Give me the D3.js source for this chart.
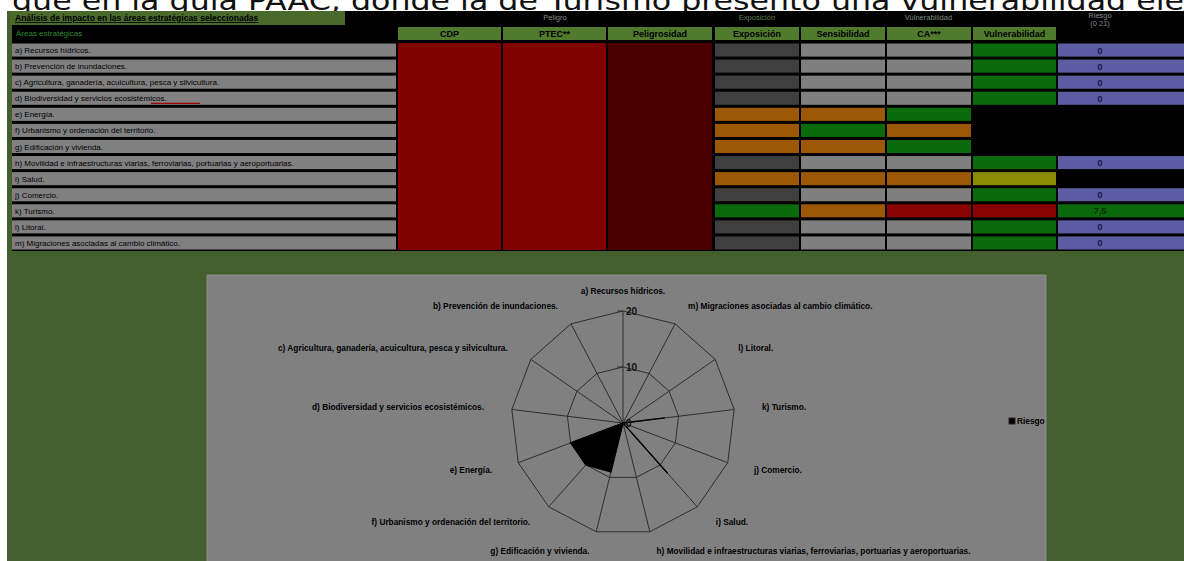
<!DOCTYPE html>
<html><head><meta charset="utf-8">
<script src="https://cdn.jsdelivr.net/npm/d3@7"></script>
<style>html,body{margin:0;padding:0;background:#fff;}svg{display:block;}</style>
</head><body>
<svg id="c" width="1184" height="561"></svg>
<script>
// ---------- DATA ----------
const introText = "que en la guía PAAC, donde la de Turismo presentó una vulnerabilidad ele";
const tableTitle = "Análisis de impacto en las áreas estratégicas seleccionadas";
const groupHeaders = ["Peligro", "Exposición", "Vulnerabilidad", "Riesgo"];
const riskRange = "(0 21)";
const rowHeader = "Áreas estratégicas";
const columnHeaders = ["CDP", "PTEC**", "Peligrosidad", "Exposición", "Sensibilidad", "CA***", "Vulnerabilidad"];
const categories = [
  "a) Recursos hídricos.",
  "b) Prevención de inundaciones.",
  "c) Agricultura, ganadería, acuicultura, pesca y silvicultura.",
  "d) Biodiversidad y servicios ecosistémicos.",
  "e) Energía.",
  "f) Urbanismo y ordenación del territorio.",
  "g) Edificación y vivienda.",
  "h) Movilidad e infraestructuras viarias, ferroviarias, portuarias y aeroportuarias.",
  "i) Salud.",
  "j) Comercio.",
  "k) Turismo.",
  "l) Litoral.",
  "m) Migraciones asociadas al cambio climático."
];
// cell level codes: nd = sin dato (gris oscuro), gr = gris, or = naranja, ve = verde, ro = rojo, am = amarillo, ne = vacío
const exposicion     = ["nd","nd","nd","nd","or","or","or","nd","or","nd","ve","nd","nd"];
const sensibilidad   = ["gr","gr","gr","gr","or","ve","or","gr","or","gr","or","gr","gr"];
const capacidad      = ["gr","gr","gr","gr","ve","or","ve","gr","or","gr","ro","gr","gr"];
const vulnerabilidad = ["ve","ve","ve","ve","ne","ne","ne","ve","am","ve","ro","ve","ve"];
const riesgoTexto    = ["0","0","0","0",null,null,null,"0",null,"0","7,5","0","0"];
const riesgoNivel    = ["bajo","bajo","bajo","bajo","ne","ne","ne","bajo","ne","bajo","ve","bajo","bajo"];
// radar (Riesgo) values per category
const radarValues = [0, 0, 0, 0, 10, 10, 9, 0, 12, 0, 7.5, 0, 0];
const radarTicks = [0, 10, 20];
const legendLabel = "Riesgo";

// ---------- STYLE ----------
const levelColor = {nd:"#3f3f3f", gr:"#7f7f7f", or:"#9c5807", ve:"#0b6a0b", ro:"#8a0303", am:"#8c8a00", ne:"#000", bajo:"#5d5da3"};
const svg = d3.select("#c");
const GREEN_BG = "#445f2e";

// white area + top text (only its lower part is visible above the sheet)
svg.append("rect").attr("x",0).attr("y",0).attr("width",1184).attr("height",561).attr("fill","#fff");
svg.append("defs").append("clipPath").attr("id","topclip").append("rect").attr("x",0).attr("y",0).attr("width",1184).attr("height",11);
svg.append("text").attr("clip-path","url(#topclip)").attr("x",12).attr("y",10).attr("font-family","'DejaVu Sans', sans-serif")
  .attr("font-size",27).attr("fill","#111").attr("textLength",1172).attr("lengthAdjust","spacingAndGlyphs").text(introText);

// spreadsheet background
svg.append("rect").attr("x",7).attr("y",11).attr("width",1177).attr("height",550).attr("fill",GREEN_BG);
svg.append("rect").attr("x",12).attr("y",11).attr("width",1172).attr("height",240).attr("fill","#000");
svg.append("rect").attr("x",10).attr("y",11).attr("width",335).attr("height",14).attr("fill","#4a6a2c");
svg.append("text").attr("x",15).attr("y",21).attr("font-family","'Liberation Sans', Arial, sans-serif")
  .attr("font-size",8.5).attr("font-weight","bold").attr("text-decoration","underline").attr("fill","#000").text(tableTitle);

// column layout
const colEdges = [[398,501],[503,606],[608,712],[715,799],[801,885],[887,971],[973,1056]];
const riskCol = [1058,1184];
const labelCol = [12,396];

const groupX = [(398+712)/2, (715+799)/2, (801+1056)/2, (riskCol[0]+1142)/2];
const groupColor = ["#8a8a8a","#5f7f4f","#7f8a7a","#8a8a8a"];
groupHeaders.forEach((g,i)=>{
  svg.append("text").attr("x",groupX[i]).attr("y", i===3?18:20).attr("text-anchor","middle")
    .attr("font-family","'Liberation Sans', Arial, sans-serif").attr("font-size",7.5).attr("fill",groupColor[i]).text(g);
});
svg.append("text").attr("x",groupX[3]).attr("y",26).attr("text-anchor","middle")
  .attr("font-family","'Liberation Sans', Arial, sans-serif").attr("font-size",7.5).attr("fill","#8a8a8a").text(riskRange);

svg.append("text").attr("x",16).attr("y",36).attr("font-family","'Liberation Sans', Arial, sans-serif")
  .attr("font-size",8).attr("fill","#2f8a2f").text(rowHeader);

columnHeaders.forEach((h,i)=>{
  const [x0,x1]=colEdges[i];
  svg.append("rect").attr("x",x0).attr("y",27).attr("width",x1-x0).attr("height",13).attr("fill","#527a2e");
  svg.append("text").attr("x",(x0+x1)/2).attr("y",37).attr("text-anchor","middle")
    .attr("font-family","'Liberation Sans', Arial, sans-serif").attr("font-size",9).attr("font-weight","bold")
    .attr("fill","#000").text(h);
});

// rows
const y = d3.scaleBand().domain(categories).range([42,251]);
const font = "'Liberation Sans', Arial, sans-serif";
const rowG = svg.append("g");
categories.forEach((c,i)=>{
  const y0 = y(c)+1.5, h = y.bandwidth()-3;
  rowG.append("rect").attr("x",labelCol[0]).attr("y",y0).attr("width",labelCol[1]-labelCol[0]).attr("height",h).attr("fill","#808080");
  rowG.append("text").attr("x",15).attr("y",y0+h/2+3).attr("font-family",font).attr("font-size",8).attr("fill","#000").text(c);
  if (i===3) {
    rowG.append("line").attr("x1",151).attr("x2",200).attr("y1",y0+h-1.5).attr("y2",y0+h-1.5).attr("stroke","#a00000").attr("stroke-width",1.2);
  }
  const cols = [exposicion, sensibilidad, capacidad, vulnerabilidad];
  cols.forEach((arr,j)=>{
    const [x0,x1]=colEdges[3+j];
    rowG.append("rect").attr("x",x0).attr("y",y0).attr("width",x1-x0).attr("height",h).attr("fill",levelColor[arr[i]]);
  });
  rowG.append("rect").attr("x",riskCol[0]).attr("y",y0).attr("width",riskCol[1]-riskCol[0]).attr("height",h).attr("fill",levelColor[riesgoNivel[i]]);
  if (riesgoTexto[i]!==null) {
    rowG.append("text").attr("x",1100).attr("y",y0+h/2+3.5).attr("text-anchor","middle").attr("font-family",font)
      .attr("font-size",9.5).attr("font-weight","bold").attr("fill", riesgoNivel[i]==="ve" ? "#0a2a0a" : "#141450").text(riesgoTexto[i]);
  }
});
const yTop = y(categories[0])+1, yBot = y(categories[categories.length-1])+y.bandwidth()-1;
[["#800000",0],["#800000",1],["#4b0000",2]].forEach(([col,k])=>{
  const [x0,x1]=colEdges[k];
  svg.append("rect").attr("x",x0).attr("y",yTop).attr("width",x1-x0).attr("height",yBot-yTop).attr("fill",col);
});

// ---------- RADAR ----------
svg.append("rect").attr("x",207).attr("y",275).attr("width",839).attr("height",290).attr("fill","#808080").attr("stroke","#8c8c8c");
const cx = 623, cy = 423;
const r = d3.scaleLinear().domain([0,20]).range([0,112]);
const n = categories.length;
const ang = d3.scaleLinear().domain([0,n]).range([0,-2*Math.PI]); // counter-clockwise from top
const pt = (i,v)=>[cx + r(v)*Math.sin(ang(i)), cy - r(v)*Math.cos(ang(i))];
const gR = svg.append("g");
radarTicks.filter(t=>t>0).forEach(t=>{
  gR.append("polygon").attr("points", d3.range(n).map(i=>pt(i,t).join(",")).join(" "))
    .attr("fill","none").attr("stroke","#2e2e2e").attr("stroke-width",1);
});
d3.range(n).forEach(i=>{
  const [x,yy]=pt(i,20);
  gR.append("line").attr("x1",cx).attr("y1",cy).attr("x2",x).attr("y2",yy).attr("stroke","#2e2e2e").attr("stroke-width",1);
});
gR.append("polygon").attr("points", radarValues.map((v,i)=>pt(i,v).join(",")).join(" "))
  .attr("fill","#000").attr("stroke","#000").attr("stroke-width",1.3).attr("stroke-linejoin","miter");
radarTicks.forEach(t=>{
  const yy = cy - r(t);
  if (t>0) gR.append("line").attr("x1",cx-6).attr("x2",cx).attr("y1",yy).attr("y2",yy).attr("stroke","#2e2e2e");
  gR.append("text").attr("x",cx+3).attr("y",yy+4).attr("font-family",font).attr("font-size",10).attr("font-weight","bold").attr("fill","#111").text(t);
});
const rx = r(20)+28, ry = r(20)+20;
categories.forEach((c,i)=>{
  const a = ang(i), sx = Math.sin(a), cyy = -Math.cos(a);
  const x = cx + rx*sx, yy = cy + ry*cyy;
  const anchor = Math.abs(sx)<0.05 ? "middle" : (sx<0 ? "end" : "start");
  gR.append("text").attr("x",x).attr("y",yy+3).attr("text-anchor",anchor).attr("font-family",font)
    .attr("font-size",8.3).attr("font-weight","bold").attr("fill","#000").text(c);
});
svg.append("rect").attr("x",1009).attr("y",418).attr("width",6).attr("height",6).attr("fill","#000").attr("stroke","#222");
svg.append("text").attr("x",1017).attr("y",424).attr("font-family",font).attr("font-size",8.3).attr("font-weight","bold").attr("fill","#000").text(legendLabel);
</script>
</body></html>
